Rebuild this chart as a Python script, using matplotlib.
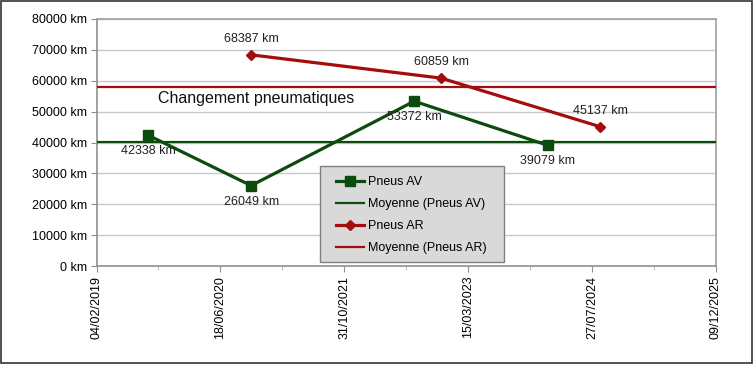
import matplotlib
matplotlib.use("Agg")
import matplotlib.pyplot as plt
import matplotlib.dates as mdates
from matplotlib.patches import Rectangle
import numpy as np

plt.rcParams['font.family'] = ['Liberation Sans', 'DejaVu Sans']

# donnees
dates_av = ['2019-09-01', '2020-10-20', '2022-08-09', '2024-01-31']
km_av = [42338, 26049, 53372, 39079]
dates_ar = ['2020-10-20', '2022-11-25', '2024-08-28']
km_ar = [68387, 60859, 45137]
x_start = '2019-02-04'
x_end = '2025-12-09'
y_ticks = [0, 10000, 20000, 30000, 40000, 50000, 60000, 70000, 80000]

green = '#0d4a0d'
red = '#a30d0d'

d_av = np.array(dates_av, dtype='datetime64[D]').astype('O')
d_ar = np.array(dates_ar, dtype='datetime64[D]').astype('O')
x0 = np.datetime64(x_start)
x1 = np.datetime64(x_end)
major = np.arange(x0, x1 + np.timedelta64(1, 'D'), np.timedelta64(500, 'D')).astype('O')
minor = np.arange(x0 + np.timedelta64(250, 'D'), x1, np.timedelta64(500, 'D')).astype('O')

fig = plt.figure(figsize=(7.54, 3.65), dpi=100)
ax = fig.add_axes([0.128, 0.271, 0.8216, 0.677])

moy_av = np.mean(km_av)
moy_ar = np.mean(km_ar)

ax.plot(d_av, km_av, color=green, lw=2.3, marker='s', ms=7, label='Pneus AV', zorder=4)
ax.axhline(moy_av, color=green, lw=1.6, label='Moyenne (Pneus AV)', zorder=3)
ax.plot(d_ar, km_ar, color=red, lw=2.3, marker='D', ms=5.5, label='Pneus AR', zorder=4)
ax.axhline(moy_ar, color=red, lw=1.6, label='Moyenne (Pneus AR)', zorder=3)

for d, v in zip(d_av, km_av):
    ax.annotate('%d km' % v, (d, v), xytext=(0, -11.5), textcoords='offset points',
                ha='center', va='center', fontsize=9, color='#222222', zorder=5)
for d, v in zip(d_ar, km_ar):
    ax.annotate('%d km' % v, (d, v), xytext=(0, 11.5), textcoords='offset points',
                ha='center', va='center', fontsize=9, color='#222222', zorder=5)

ax.text(np.datetime64('2019-10-12').astype('O'), 54200, 'Changement pneumatiques',
        fontsize=11.5, color='#111111', va='center', ha='left', zorder=5)

ax.set_xlim(x0.astype('O'), x1.astype('O'))
ax.set_ylim(0, 80000)
ax.set_yticks(y_ticks)
ax.set_yticklabels(['%d km' % t for t in y_ticks], fontsize=9)
ax.set_xticks(major)
ax.set_xticks(minor, minor=True)
ax.xaxis.set_major_formatter(mdates.DateFormatter('%d/%m/%Y'))
for lab in ax.get_xticklabels():
    lab.set_rotation(90)
    lab.set_fontsize(9)

ax.grid(axis='y', color='#c8c8c8', lw=1)
ax.set_axisbelow(True)
for s in ax.spines.values():
    s.set_color('#a0a0a0')
    s.set_linewidth(1.2)
ax.spines['left'].set_color('#909090')
ax.spines['bottom'].set_color('#909090')
ax.tick_params(axis='both', which='major', length=4, color='#909090', pad=3)
ax.tick_params(axis='x', which='minor', length=3, color='#b0b0b0')

# boite de legende
ax.add_patch(Rectangle((0.3608, 0.0162), 0.297, 0.389, transform=ax.transAxes,
                       facecolor='#d9d9d9', edgecolor='#808080', lw=1, zorder=5.5))
leg = ax.legend(loc='upper left', bbox_to_anchor=(0.3866, 0.363), fontsize=9,
                frameon=False, handlelength=2.25, handletextpad=0.32, borderpad=0,
                borderaxespad=0, labelspacing=0.8)
leg.set_zorder(6)

fig.patches.append(Rectangle((0.0015, 0.005), 0.996, 0.992, transform=fig.transFigure,
                             fill=False, edgecolor='#333333', lw=1.2))

fig.savefig('out.png', dpi=100)
